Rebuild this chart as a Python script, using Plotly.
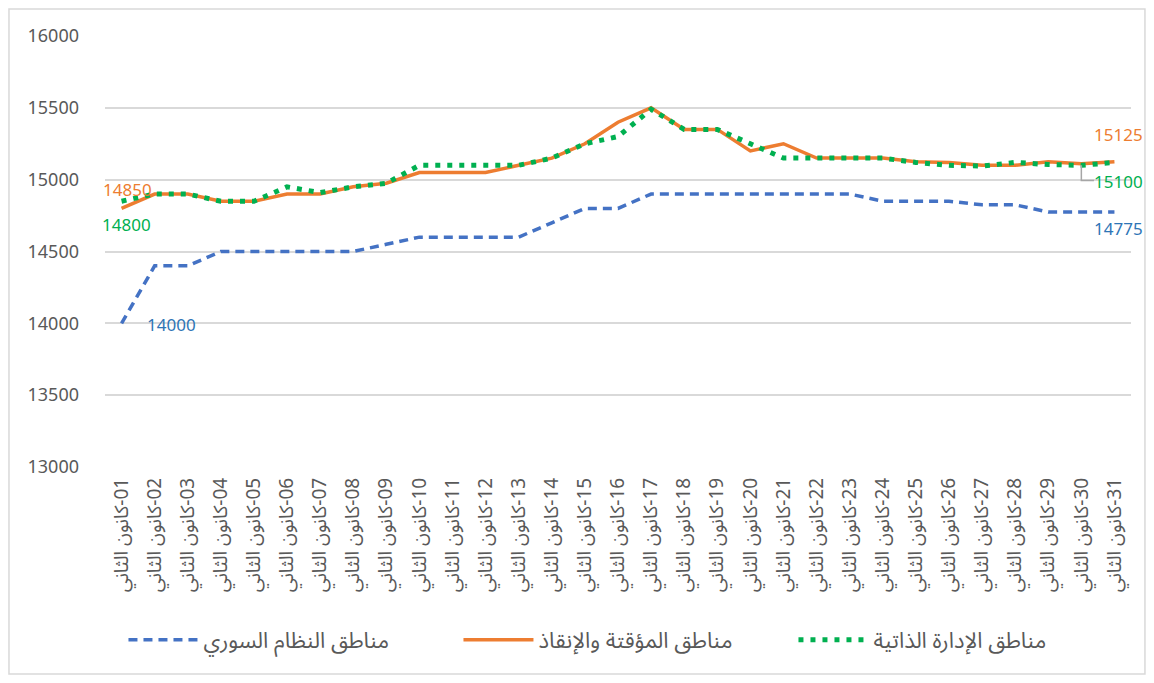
import plotly.graph_objects as go

days = list(range(1, 32))
# RLM prefix makes the label lay out right-to-left, as in the reference
tick_labels = ["\u200F" + f"{d:02d}-كانون الثاني" for d in days]

series_names = ["مناطق النظام السوري", "مناطق المؤقتة والإنقاذ", "مناطق الإدارة الذاتية"]

regime = [14000, 14400, 14400, 14500, 14500, 14500, 14500, 14500, 14550, 14600,
          14600, 14600, 14600, 14700, 14800, 14800, 14900, 14900, 14900, 14900,
          14900, 14900, 14900, 14850, 14850, 14850, 14825, 14825, 14775, 14775, 14775]
interim = [14800, 14900, 14900, 14850, 14850, 14900, 14900, 14950, 14975, 15050,
           15050, 15050, 15100, 15150, 15250, 15400, 15500, 15350, 15350, 15200,
           15250, 15150, 15150, 15150, 15125, 15120, 15100, 15100, 15125, 15110, 15125]
selfadmin = [14850, 14900, 14900, 14850, 14850, 14950, 14910, 14950, 14975, 15100,
             15100, 15100, 15100, 15150, 15250, 15300, 15490, 15350, 15350, 15250,
             15150, 15150, 15150, 15150, 15120, 15100, 15095, 15120, 15105, 15100, 15120]

y_ticks = [13000, 13500, 14000, 14500, 15000, 15500, 16000]

# data labels shown on the chart
label_texts = {"interim_start": "14850", "self_start": "14800", "regime_start": "14000",
               "interim_end": "15125", "self_end": "15100", "regime_end": "14775"}

BLUE = "#4472C4"
ORANGE = "#ED7D31"
GREEN = "#00B050"
BLUE_TXT = "#2E75B6"
GRAY = "#595959"
AR_FONT = "Noto Sans Arabic, Noto Sans, DejaVu Sans, sans-serif"

fig = go.Figure()
fig.add_trace(go.Scatter(x=days, y=regime, mode="lines", name=series_names[0],
                         line=dict(color=BLUE, width=3.5, dash="9px,6px")))
fig.add_trace(go.Scatter(x=days, y=interim, mode="lines", name=series_names[1],
                         line=dict(color=ORANGE, width=3.5)))
fig.add_trace(go.Scatter(x=days, y=selfadmin, mode="lines", name=series_names[2],
                         line=dict(color=GREEN, width=5, dash="5px,7px")))

lab_font = dict(family="Noto Sans, Open Sans, sans-serif", size=17)
ann = [
    dict(x=1, y=interim[0], text=label_texts["interim_start"], xshift=6, yshift=19,
         font=dict(color=ORANGE, **lab_font)),
    dict(x=1, y=selfadmin[0], text=label_texts["self_start"], xshift=5, yshift=-23,
         font=dict(color=GREEN, **lab_font)),
    dict(x=1, y=regime[0], text=label_texts["regime_start"], xshift=50, yshift=-1,
         font=dict(color=BLUE_TXT, **lab_font)),
    dict(x=31, y=interim[-1], text=label_texts["interim_end"], xshift=31, yshift=27,
         xanchor="right", font=dict(color=ORANGE, **lab_font)),
    dict(x=31, y=selfadmin[29], text=label_texts["self_end"], xshift=31, yshift=-16,
         xanchor="right", font=dict(color=GREEN, **lab_font)),
    dict(x=31, y=regime[-1], text=label_texts["regime_end"], xshift=31, yshift=-17,
         xanchor="right", font=dict(color=BLUE_TXT, **lab_font)),
]
for a in ann:
    a.update(xref="x", yref="y", showarrow=False)
fig.update_layout(annotations=ann)

# leader line for the green end label
fig.add_shape(type="path", xref="x", yref="y",
              path=f"M 30,{selfadmin[29]} L 30,14995 L 30.38,14995",
              line=dict(color="#A6A6A6", width=1.5))

# outer chart border
fig.add_shape(type="rect", xref="paper", yref="paper",
              x0=-0.0936, x1=1.0136, y0=-0.4803, y1=1.0626,
              line=dict(color="#D9D9D9", width=1.5), fillcolor="rgba(0,0,0,0)")

fig.update_xaxes(tickmode="array", tickvals=days, ticktext=tick_labels,
                 range=[0.5, 31.5], tickangle=-90, showgrid=False, zeroline=False,
                 showline=False, ticks="", ticklabelstandoff=6,
                 tickfont=dict(family=AR_FONT, size=19, color=GRAY))
fig.update_yaxes(range=[13000, 16000], tickvals=y_ticks, tickformat="d", showgrid=True,
                 gridcolor="#D9D9D9", gridwidth=1.5, zeroline=False, showline=False,
                 ticklabelstandoff=25,
                 tickfont=dict(family="Noto Sans, Open Sans, sans-serif", size=18, color=GRAY))

fig.update_layout(
    width=1138, height=667,
    margin=dict(l=97, r=15, t=28, b=208),
    plot_bgcolor="white", paper_bgcolor="white",
    showlegend=True,
    legend=dict(orientation="h", x=0.018, y=-0.401, xanchor="left", yanchor="middle",
                itemwidth=70, entrywidth=250, entrywidthmode="pixels",
                font=dict(family=AR_FONT, size=22, color=GRAY)),
)

fig.write_html("out.html")
